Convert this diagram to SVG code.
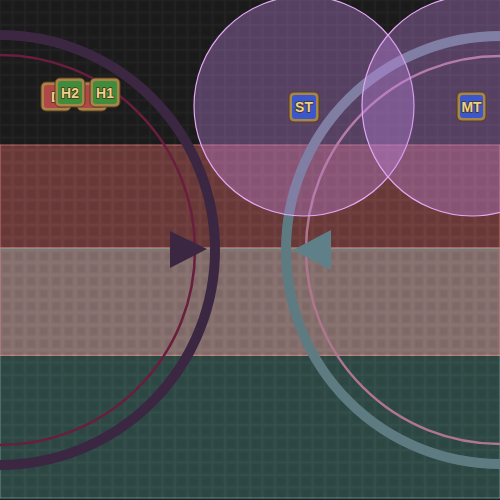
<svg xmlns="http://www.w3.org/2000/svg" width="500" height="500" viewBox="0 0 500 500">
<defs>
<pattern id="grid" x="0" y="0" width="12.5" height="12.5" patternUnits="userSpaceOnUse">
<rect x="0" y="0" width="12.5" height="12.5" fill="none" stroke="#ffffff" stroke-opacity="0.045" stroke-width="1"/>
<rect x="2.5" y="2.5" width="7.5" height="7.5" fill="#000000" fill-opacity="0.06"/>
</pattern>
<style>
.band{stroke-width:1}
.zone{fill:#c084e0;fill-opacity:0.36;stroke:#e4a8f4;stroke-width:1.2}
.mk-frame{fill:#a8834a;stroke:#5a3e1e;stroke-width:1}
.mk-text{font-family:"Liberation Sans",Arial,sans-serif;font-weight:bold;font-size:14px;fill:#ecd08c;stroke:#4a3418;stroke-width:1.5;paint-order:stroke;text-anchor:middle;dominant-baseline:central}
</style>
</defs>
<rect x="0" y="0" width="500" height="500" fill="#1c1c1c"/>
<rect x="0" y="145" width="500" height="103" fill="#6c3b3a" stroke="#c46a6a" class="band"/>
<rect x="0" y="248" width="500" height="107" fill="#86706e" stroke="#cc7a7a" class="band"/>
<rect x="0" y="355" width="500" height="143" fill="#2f4a46" stroke="#5e8a82" class="band"/>
<line x1="0" y1="248.5" x2="500" y2="248.5" stroke="#7c948e" stroke-width="1"/>
<line x1="0" y1="355.5" x2="500" y2="355.5" stroke="#d07c7c" stroke-width="1"/>
<rect x="0" y="0" width="500" height="500" fill="url(#grid)"/>
<g id="connectors">
<path d="M 0 35 A 215 215 0 0 1 0 465" fill="none" stroke="#3b2741" stroke-width="10"/>
<path d="M 0 55 A 195 195 0 0 1 0 445" fill="none" stroke="#6a1e3e" stroke-width="2.5"/>
<polygon points="170,231 170,268 207,249" fill="#3b2741"/>
<path d="M 500 36 A 214 214 0 0 0 500 464" fill="none" stroke="#5f7b82" stroke-width="10"/>
<path d="M 500 56 A 194 194 0 0 0 500 444" fill="none" stroke="#b07690" stroke-width="2.5"/>
<polygon points="331,230 331,270 293,250" fill="#5f8088"/>
</g>
<g id="zone-st"><circle class="zone" cx="304" cy="106" r="110"/></g>
<g id="zone-mt"><circle class="zone" cx="472" cy="106" r="110"/></g>
<g id="marker-d1">
<rect class="mk-frame" x="41" y="82" width="30" height="29" rx="5"/>
<rect x="44" y="85" width="24" height="23" rx="3" fill="#b04848"/>
<text class="mk-text" x="56" y="97">D</text>
</g>
<g id="marker-d2">
<rect class="mk-frame" x="77" y="82" width="30" height="29" rx="5"/>
<rect x="80" y="85" width="24" height="23" rx="3" fill="#b04848"/>
</g>
<g id="marker-h2">
<rect class="mk-frame" x="55" y="78" width="30" height="29" rx="5"/>
<rect x="58" y="81" width="24" height="23" rx="3" fill="#3f8c3a"/>
<text class="mk-text" x="70" y="93">H2</text>
</g>
<g id="marker-h1">
<rect class="mk-frame" x="90" y="78" width="30" height="29" rx="5"/>
<rect x="93" y="81" width="24" height="23" rx="3" fill="#3f8c3a"/>
<text class="mk-text" x="105" y="93">H1</text>
</g>
<g id="marker-st">
<rect class="mk-frame" x="289" y="92" width="30" height="30" rx="5"/>
<rect x="292" y="95" width="24" height="24" rx="3" fill="#3a58cc"/>
<text class="mk-text" x="304" y="107">ST</text>
</g>
<g id="marker-mt">
<rect class="mk-frame" x="457" y="92" width="29" height="29" rx="5"/>
<rect x="460" y="95" width="23" height="23" rx="3" fill="#3a58cc"/>
<text class="mk-text" x="471.5" y="106.5">MT</text>
</g>
</svg>
